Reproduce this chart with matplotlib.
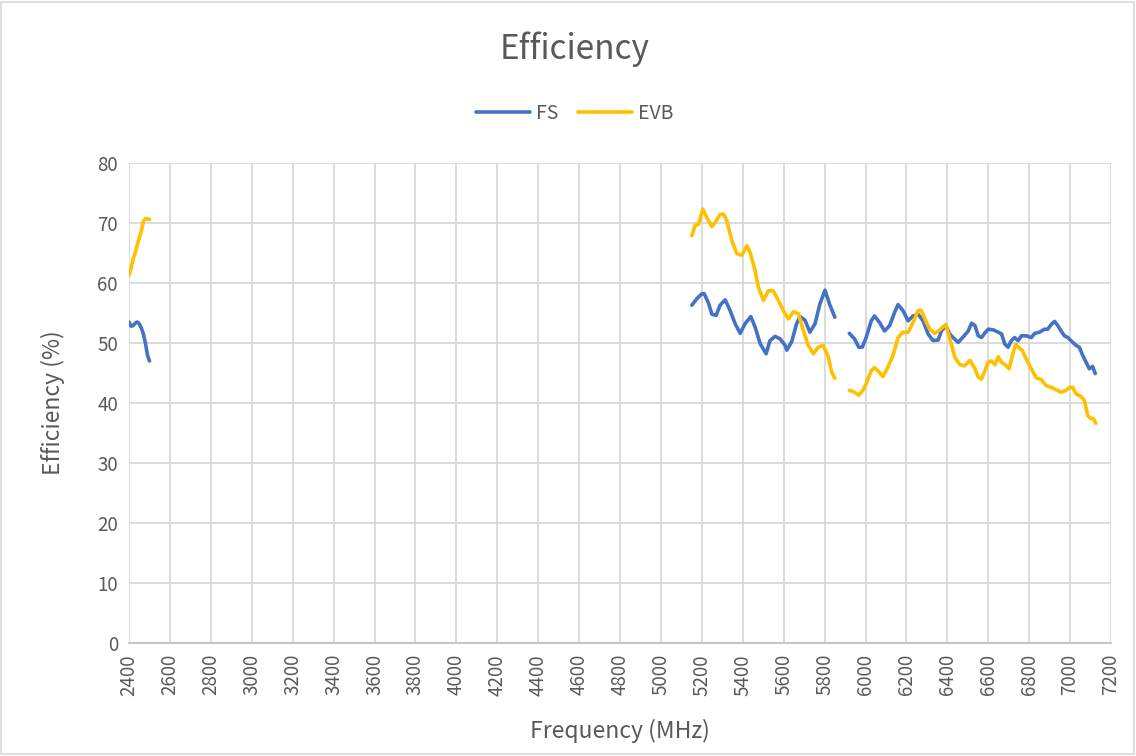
import numpy as np
import matplotlib
matplotlib.use("Agg")
import matplotlib.pyplot as plt
from matplotlib.patches import Rectangle

nan = np.nan

# FS curve (MHz, %) - nan marks a break between bands
fs_freq = [2400, 2410, 2420, 2430, 2440, 2450, 2460, 2470, 2480, 2490, 2500, nan,
           5151, 5176, 5200, 5212, 5233, 5249, 5270, 5289, 5314, 5338, 5363, 5387,
           5411, 5439, 5460, 5485, 5514, 5533, 5558, 5582, 5607, 5615, 5639, 5663,
           5680, 5704, 5728, 5753, 5777, 5802, 5826, 5850, nan,
           5921, 5946, 5967, 5984, 6003, 6028, 6044, 6069, 6093, 6118, 6142, 6159,
           6183, 6208, 6232, 6257, 6281, 6306, 6330, 6355, 6371, 6392, 6412, 6428,
           6453, 6477, 6502, 6518, 6535, 6551, 6567, 6584, 6600, 6624, 6649, 6665,
           6681, 6697, 6713, 6729, 6746, 6762, 6786, 6810, 6827, 6851, 6875, 6891,
           6908, 6924, 6940, 6956, 6972, 6989, 7013, 7029, 7045, 7062, 7078, 7094,
           7110, 7123]
fs_eff = [53.5, 52.8, 52.9, 53.3, 53.5, 53.2, 52.5, 51.5, 50.0, 48.0, 47.0, nan,
          56.3, 57.4, 58.2, 58.2, 56.6, 54.8, 54.6, 56.3, 57.2, 55.4, 53.2, 51.6,
          53.2, 54.4, 52.7, 49.9, 48.2, 50.4, 51.1, 50.7, 49.6, 48.8, 50.2, 53.2,
          54.4, 53.8, 51.8, 53.2, 56.5, 58.8, 56.3, 54.3, nan,
          51.6, 50.7, 49.3, 49.3, 50.9, 53.7, 54.5, 53.4, 52.0, 52.9, 55.1, 56.4,
          55.4, 53.7, 54.5, 54.8, 53.7, 51.5, 50.4, 50.5, 52.0, 52.9, 51.5, 50.9,
          50.1, 51.0, 52.0, 53.3, 52.9, 51.2, 50.9, 51.7, 52.3, 52.2, 51.8, 51.5,
          49.8, 49.3, 50.4, 50.9, 50.4, 51.2, 51.2, 50.9, 51.6, 51.8, 52.3, 52.3,
          53.1, 53.6, 52.9, 52.0, 51.2, 50.9, 50.1, 49.6, 49.3, 47.9, 46.8, 45.7,
          46.1, 44.9]

# EVB curve
evb_freq = [2400, 2410, 2420, 2430, 2440, 2450, 2460, 2470, 2480, 2490, 2500, nan,
            5151, 5167, 5184, 5205, 5224, 5249, 5265, 5289, 5306, 5322, 5346, 5371,
            5395, 5420, 5436, 5460, 5476, 5501, 5525, 5549, 5574, 5598, 5623, 5647,
            5672, 5696, 5720, 5745, 5769, 5793, 5818, 5834, 5850, nan,
            5921, 5946, 5967, 5987, 6003, 6028, 6044, 6065, 6085, 6110, 6134, 6159,
            6183, 6208, 6232, 6257, 6273, 6294, 6314, 6338, 6363, 6392, 6412, 6437,
            6461, 6485, 6510, 6535, 6551, 6567, 6584, 6600, 6616, 6633, 6649, 6665,
            6689, 6702, 6718, 6734, 6751, 6767, 6786, 6810, 6835, 6859, 6883, 6908,
            6932, 6956, 6981, 6997, 7013, 7029, 7053, 7070, 7086, 7102, 7114, 7126]
evb_eff = [61.3, 62.5, 64.0, 65.0, 66.3, 67.5, 68.6, 70.3, 70.7, 70.7, 70.6, nan,
           67.9, 69.6, 69.8, 72.3, 70.9, 69.4, 70.1, 71.4, 71.5, 70.4, 67.1, 64.9,
           64.6, 66.2, 65.1, 62.1, 59.3, 57.1, 58.7, 58.7, 57.1, 55.4, 54.0, 55.2,
           54.9, 52.1, 49.6, 48.2, 49.3, 49.6, 47.7, 45.2, 44.1, nan,
           42.1, 41.8, 41.3, 42.1, 43.2, 45.4, 45.9, 45.2, 44.4, 46.0, 47.9, 50.9,
           51.8, 51.8, 53.4, 55.4, 55.4, 53.7, 52.3, 51.6, 52.2, 53.1, 50.7, 47.6,
           46.4, 46.2, 47.1, 45.7, 44.3, 44.0, 45.4, 46.8, 47.0, 46.4, 47.7, 46.8,
           46.2, 45.7, 47.9, 49.8, 49.2, 48.7, 47.3, 45.7, 44.2, 43.9, 42.9, 42.6,
           42.2, 41.8, 42.1, 42.6, 42.6, 41.5, 41.1, 40.4, 37.9, 37.4, 37.4, 36.6]

x_ticks = list(range(2400, 7201, 200))
y_ticks = list(range(0, 81, 10))

plt.rcParams['font.family'] = ['Noto Sans CJK SC', 'DejaVu Sans']
text_color = '#595959'
grid_color = '#D9D9D9'

fig = plt.figure(figsize=(11.36, 7.56), dpi=100)
ax = fig.add_axes([0.1136, 0.1495, 0.8644, 0.6349])

ax.plot(fs_freq, fs_eff, color='#4472C4', lw=2.6, label='FS', solid_capstyle='round')
ax.plot(evb_freq, evb_eff, color='#FFC000', lw=2.6, label='EVB', solid_capstyle='round')

ax.set_xlim(2400, 7200)
ax.set_ylim(0, 80)
ax.set_xticks(x_ticks)
ax.set_yticks(y_ticks)
ax.set_xticklabels([str(t) for t in x_ticks], rotation=90)
ax.tick_params(length=0, labelsize=13.5, colors=text_color, pad=8)
ax.grid(True, color=grid_color, lw=1.3)
ax.set_axisbelow(True)
for s in ['top', 'right', 'left']:
    ax.spines[s].set_visible(False)
ax.spines['bottom'].set_color('#BFBFBF')
ax.spines['bottom'].set_linewidth(1.3)
ax.set_ylabel('Efficiency (%)', fontsize=16.5, color=text_color, labelpad=23)
ax.set_xlabel('Frequency (MHz)', fontsize=16.5, color=text_color, labelpad=17)

fig.text(0.506, 0.935, 'Efficiency', ha='center', va='center', fontsize=24, color=text_color)
leg = fig.legend(loc='center', bbox_to_anchor=(0.506, 0.85), ncol=2, frameon=False,
                 fontsize=14, handlelength=2.8, columnspacing=1.0, handletextpad=0.3)
for t in leg.get_texts():
    t.set_color(text_color)

fig.patches.append(Rectangle((0.001, 0.002), 0.997, 0.995, transform=fig.transFigure,
                             fill=False, edgecolor=grid_color, lw=1.2))

fig.savefig('out.png', dpi=100)
